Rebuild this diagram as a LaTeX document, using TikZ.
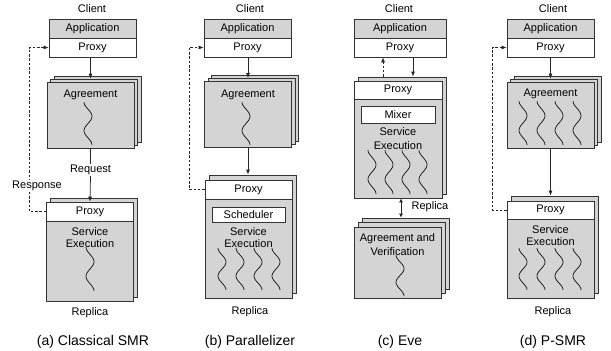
\documentclass[tikz,border=0pt]{standalone}
\usepackage{fontspec}
\setmainfont{Liberation Sans}
\usetikzlibrary{arrows.meta}

% a wavy thread: x, top y, bottom y, amplitude
\newcommand\wavy[4]{%
  \draw[thread] plot[domain=0:1, samples=40, smooth]
    ({#1-#4*cos(540*\x)}, {#2+(#3-#2)*\x});}

\tikzset{
  txt/.style={font=\fontsize{11}{12}\selectfont, inner sep=1pt, align=center},
  captxt/.style={font=\fontsize{14}{16}\selectfont, inner sep=1pt},
  box/.style={draw=black!80, line width=0.75pt, inner sep=0pt,
    minimum width=87pt, minimum height=19pt, font=\fontsize{11}{12}\selectfont},
  appbox/.style={box, fill=black!17},
  pxbox/.style={box, fill=white},
  layer/.style={box, fill=black!17},
  thread/.style={line width=0.65pt, black},
  flow/.style={line width=0.75pt, black!85, -{Latex[length=5pt,width=4pt]}},
  link/.style={line width=0.75pt, black!85},
  resp/.style={line width=0.65pt, black!85, dashed, dash pattern=on 2.5pt off 1.8pt,
    -{Latex[length=5pt,width=4pt]}},
  dflow/.style={line width=0.75pt, black!85,
    {Latex[length=4pt,width=4pt]}-{Latex[length=4pt,width=4pt]}},
}

\begin{document}
\begin{tikzpicture}[x=1pt, y=-1pt]
\useasboundingbox (0,0) rectangle (611,351);

% ---------------- (a) Classical SMR ----------------
\node[txt] (clA) at (92,9) {Client};
\node[appbox] (apA) at (92.5,28.5) {Application};
\node[pxbox] (pxA) at (92.5,47.5) {Proxy};
\node[layer, minimum height=66pt] (agA3) at (97.5,109) {};
\node[layer, minimum height=66pt] (agA2) at (94,112) {};
\node[layer, minimum height=66pt] (agA) at (90.5,115) {};
\node[txt] (agtA) at (90.5,95) {Agreement};
\wavy{88}{102}{145}{4}
\node[layer, minimum height=99pt] (repA2) at (94,247.5) {};
\node[layer, minimum height=99pt] (repA) at (90,251.5) {};
\node[pxbox, anchor=north] (rpA) at (repA.north) {Proxy};
\node[txt] (seA) at (90,238) {Service\\Execution};
\wavy{90}{247}{291}{4}
\node[txt] (rlA) at (90,313) {Replica};
\node[captxt] (capA) at (93,342) {(a) Classical SMR};

\draw[flow] (pxA.south -| agA.north) -- (agA2.north -| agA.north);
\node[txt, fill=white] (rqA) at (90.5,170) {Request};
\draw[link] (agA.south) -- (rqA.north);
\draw[flow] (rqA.south) -- (repA.north);
\coordinate (rtA) at (29,130);
\draw[resp] (rpA.west) -| (rtA) |- (pxA.west);
\node[txt, fill=white] (rsA) at (37,186) {Response};

% ---------------- (b) Parallelizer ----------------
\node[txt] (clB) at (250,9) {Client};
\node[appbox] (apB) at (247.5,28.5) {Application};
\node[pxbox] (pxB) at (247.5,47.5) {Proxy};
\node[layer, minimum height=66pt] (agB3) at (255,108.5) {};
\node[layer, minimum height=66pt] (agB2) at (251.5,111.5) {};
\node[layer, minimum height=66pt] (agB) at (248,114.5) {};
\node[txt] (agtB) at (248,95) {Agreement};
\wavy{246}{102}{145}{4}
\node[layer, minimum height=118pt] (repB2) at (252.5,234) {};
\node[layer, minimum height=118pt] (repB) at (248.5,239) {};
\node[pxbox, anchor=north] (rpB) at (repB.north) {Proxy};
\node[pxbox, minimum width=73pt, minimum height=15pt] (scB) at (248.5,214.5) {Scheduler};
\node[txt] (seB) at (248.5,238) {Service\\Execution};
\foreach \t in {222,240,258,276} { \wavy{\t}{248}{290}{4} }
\node[txt] (rlB) at (250,312) {Replica};
\node[captxt] (capB) at (250,342) {(b) Parallelizer};

\draw[flow] (pxB.south -| agB.north) -- (agB2.north -| agB.north);
\draw[flow] (agB.south) -- (repB2.north -| agB.south);
\coordinate (rtB) at (189,130);
\draw[resp] (rpB.west) -| (rtB) |- (pxB.west);

% ---------------- (c) Eve ----------------
\node[txt] (clC) at (399,9) {Client};
\node[appbox, minimum width=92pt] (apC) at (400,28.5) {Application};
\node[pxbox, minimum width=92pt] (pxC) at (400,47.5) {Proxy};
\node[layer, minimum width=88pt, minimum height=117pt] (topC2) at (402,135.5) {};
\node[layer, minimum width=88pt, minimum height=117pt] (topC) at (398,139.5) {};
\node[pxbox, minimum width=88pt, minimum height=18pt, anchor=north] (rpC) at (topC.north) {Proxy};
\node[pxbox, minimum width=74pt, minimum height=17pt] (mxC) at (398,114.5) {Mixer};
\node[txt] (seC) at (398,139) {Service\\[2pt]Execution};
\foreach \t in {372,389,406,423} { \wavy{\t}{150}{194}{4} }
\node[layer, minimum height=71pt] (avC3) at (405.5,253.5) {};
\node[layer, minimum height=71pt] (avC2) at (401.5,258) {};
\node[layer, minimum height=71pt] (avC) at (397.5,262.5) {};
\node[txt] (avtC) at (397.5,245) {Agreement and\\[2pt]Verification};
\wavy{400}{255}{296}{4}
\node[txt] (rlC) at (430,207) {Replica};
\node[captxt] (capC) at (400,342) {(c) Eve};

\coordinate (upC) at (383,0);
\coordinate (dnC) at (413,0);
\coordinate (dbC) at (401,0);
\draw[resp] (topC2.north -| upC) -- (pxC.south -| upC);
\draw[flow] (pxC.south -| dnC) -- (topC2.north -| dnC);
\draw[dflow] (topC.south -| dbC) -- (avC3.north -| dbC);

% ---------------- (d) P-SMR ----------------
\node[txt] (clD) at (553,9) {Client};
\node[appbox] (apD) at (550.5,28.5) {Application};
\node[pxbox] (pxD) at (550.5,47.5) {Proxy};
\node[layer, minimum height=66pt] (agD3) at (557.5,109) {};
\node[layer, minimum height=66pt] (agD2) at (554,112) {};
\node[layer, minimum height=66pt] (agD) at (550.5,115) {};
\node[txt] (agtD) at (550.5,94) {Agreement};
\foreach \t in {523,541,559,577} { \wavy{\t}{101}{145}{4} }
\node[layer, minimum height=97pt] (repD2) at (554.5,244.5) {};
\node[layer, minimum height=97pt] (repD) at (550.5,249.5) {};
\node[pxbox, minimum height=18pt, anchor=north] (rpD) at (repD.north) {Proxy};
\node[txt] (seD) at (550.5,235.5) {Service\\Execution};
\foreach \t in {523,541,559,577} { \wavy{\t}{248}{290}{4} }
\node[txt] (rlD) at (553,312) {Replica};
\node[captxt] (capD) at (553,342) {(d) P-SMR};

\draw[flow] (pxD.south -| agD.north) -- (agD2.north -| agD.north);
\draw[flow] (agD.south) -- (repD2.north -| agD.south);
\coordinate (rtD) at (492,130);
\draw[resp] (rpD.west) -| (rtD) |- (pxD.west);

\end{tikzpicture}
\end{document}
